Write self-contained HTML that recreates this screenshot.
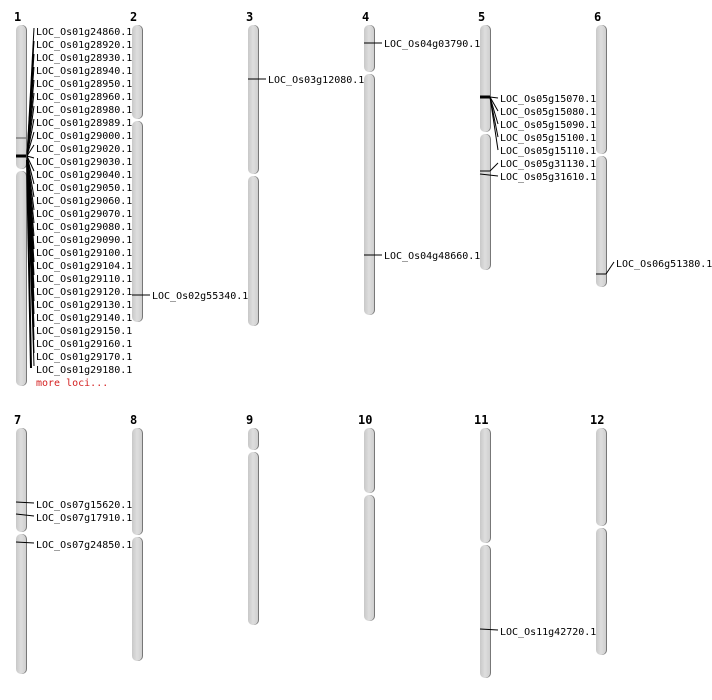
<!DOCTYPE html>
<html><head><meta charset="utf-8"><style>
html,body{margin:0;padding:0;background:#fff;width:712px;height:700px;overflow:hidden}
text{font-family:"DejaVu Sans Mono","Liberation Mono",monospace;font-size:10px;fill:#000}
.n{font-size:12px;font-weight:bold}
</style></head><body>
<svg id="s" width="712" height="700" xmlns="http://www.w3.org/2000/svg">
<defs><linearGradient id="g" x1="0" x2="1" y1="0" y2="0">
<stop offset="0" stop-color="#c8c8c8"/><stop offset="0.5" stop-color="#dedede"/><stop offset="1" stop-color="#cfcfcf"/></linearGradient></defs>
</svg>
<script>
var s=document.getElementById('s'),h='';
function chr(x,t,c,b,n){
 [[t,c-1],[c+1,b]].forEach(function(p){
  h+='<rect x="'+(x+1)+'" y="'+p[0]+'" width="10" height="'+(p[1]-p[0])+'" rx="5" fill="#777"/>';
  h+='<rect x="'+x+'" y="'+p[0]+'" width="10" height="'+(p[1]-p[0])+'" rx="5" fill="url(#g)"/>';});
 h+='<text class="n" x="'+(x-2-(n>9?4:0))+'" y="'+(t-4)+'">'+n+'</text>';
}
chr(16,25,170,386,1);chr(132,25,120,322,2);chr(248,25,175,326,3);chr(364,25,73,315,4);chr(480,25,133,270,5);chr(596,25,155,287,6);
chr(16,428,533,674,7);chr(132,428,536,661,8);chr(248,428,451,625,9);chr(364,428,494,621,10);chr(480,428,544,678,11);chr(596,428,527,655,12);
function L(x1,y1,x2,y2,w,c){h+='<line x1="'+x1+'" y1="'+y1+'" x2="'+x2+'" y2="'+y2+'" stroke="'+(c||'#000')+'" stroke-width="'+(w||1)+'"/>';}
function T(x,y,t,c){h+='<text x="'+x+'" y="'+y+'"'+(c?' style="fill:'+c+'"':'')+'>'+t+'</text>';}
var c1=['24860','28920','28930','28940','28950','28960','28980','28989','29000','29020','29030','29040','29050','29060','29070','29080','29090','29100','29104','29110','29120','29130','29140','29150','29160','29170','29180'];
L(16,138,26,138,1,'#555');L(16,156,26,156,3);
c1.forEach(function(v,i){var y=31+13*i;L(27,156,34,y-3,1);T(36,y+4,'LOC_Os01g'+v+'.1');});
L(27,160,31,368,2);
T(36,386,'more loci...','#d42020');
L(132,295,150,295);T(152,299,'LOC_Os02g55340.1');
L(248,79,266,79);T(268,83,'LOC_Os03g12080.1');
L(364,43,382,43);T(384,47,'LOC_Os04g03790.1');
L(364,255,382,255);T(384,259,'LOC_Os04g48660.1');
L(480,97,490,97,3);
['15070','15080','15090','15100','15110'].forEach(function(v,i){var y=98+13*i;L(490,97,498,y,1);T(500,y+4,'LOC_Os05g'+v+'.1');});
L(480,171,490,171);L(490,171,498,163);T(500,167,'LOC_Os05g31130.1');
L(480,174,498,176);T(500,180,'LOC_Os05g31610.1');
L(596,274,606,274);L(606,274,614,262);T(616,267,'LOC_Os06g51380.1');
L(16,502,34,503);T(36,508,'LOC_Os07g15620.1');
L(16,514,34,516);T(36,521,'LOC_Os07g17910.1');
L(16,542,34,543);T(36,548,'LOC_Os07g24850.1');
L(480,629,498,630);T(500,635,'LOC_Os11g42720.1');
s.insertAdjacentHTML('beforeend',h);
</script>
</body></html>
